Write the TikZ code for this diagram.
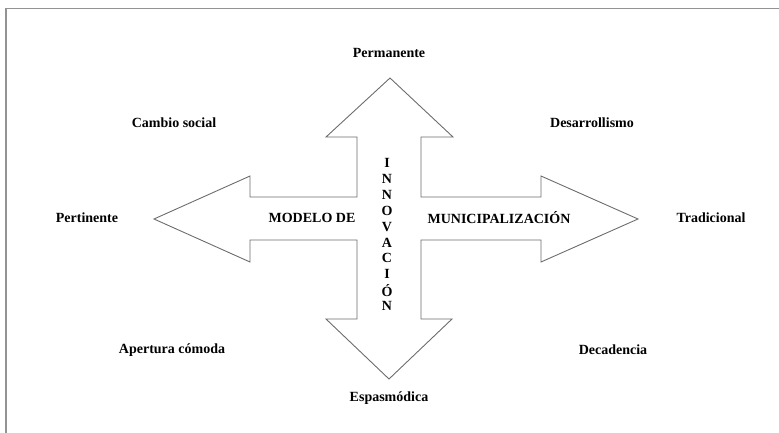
\documentclass[tikz,border=0pt]{standalone}
\usepackage{fontspec}
\setmainfont{Liberation Serif}
\usepackage{tikz}
\usetikzlibrary{positioning}

\tikzset{
  lbl/.style={inner sep=0pt, font=\fontsize{14}{16}\selectfont\bfseries},
  cruz/.style={draw=gray!85!black, line width=0.9pt, line join=miter}
}

\begin{document}
\begin{tikzpicture}[x=1pt, y=-1pt]
  \useasboundingbox (0,0) rectangle (779,433);
  % ---- frame (only top and left edges show) ----
  \draw[gray!85, line width=1.6pt] (6,433) -- (6,8.5) -- (779,8.5);
  % ---- four-way arrow ----
  \draw[cruz] (357,197) -- (357,137) -- (326,137) -- (390,78) -- (453,137)
    -- (421,137) -- (421,197) -- (541,197) -- (541,176) -- (638,219)
    -- (541,262) -- (541,240) -- (421,240) -- (421,319) -- (452,319)
    -- (389,379) -- (326,319) -- (357,319) -- (357,240) -- (250,240)
    -- (250,262) -- (154,219) -- (250,176) -- (250,197) -- cycle;
  % ---- text inside the arrow ----
  \node[lbl] (modelo) at (312,218) {MODELO DE};
  \node[lbl] (munic) at (499,218) {MUNICIPALIZACIÓN};
  \foreach \c [count=\i] in {I,N,N,O,V,A,C,I,Ó,N}
    \node[lbl] (innov\i) at (387,163+15.9*\i-15.9) {\c};
  % ---- poles ----
  \node[lbl] (perm) at (389,53) {Permanente};
  \node[lbl] (espas) at (389,398) {Espasmódica};
  \node[lbl] (pert) at (87,218) {Pertinente};
  \node[lbl] (trad) at (711,218) {Tradicional};
  % ---- quadrants ----
  \node[lbl] (cambio) at (174,123) {Cambio social};
  \node[lbl] (desarr) at (592,123) {Desarrollismo};
  \node[lbl] (apert) at (172,350) {Apertura cómoda};
  \node[lbl] (decad) at (613,350) {Decadencia};
\end{tikzpicture}
\end{document}
